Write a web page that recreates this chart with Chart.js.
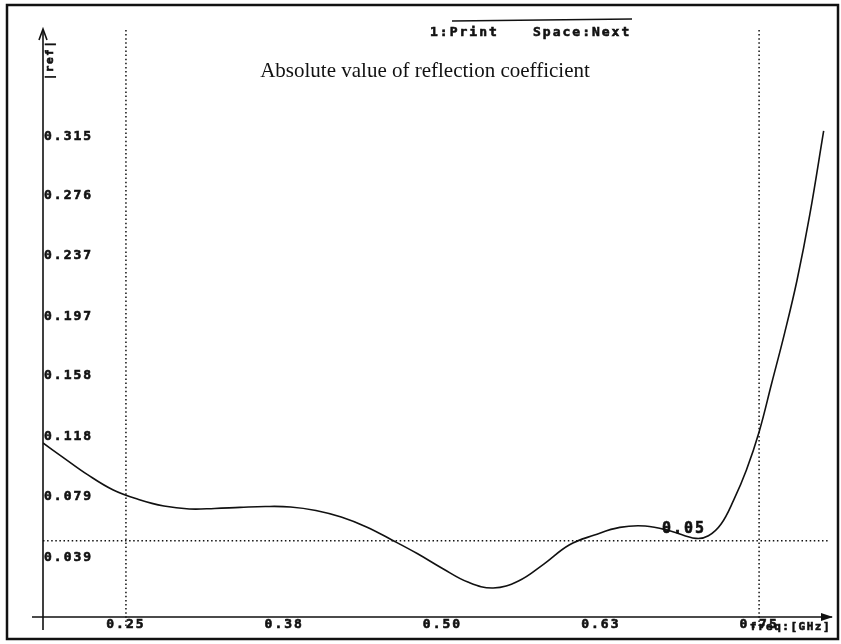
<!DOCTYPE html>
<html>
<head>
<meta charset="utf-8">
<script src="https://cdn.jsdelivr.net/npm/chart.js@4.4.1/dist/chart.umd.min.js"></script>
<style>
  html, body { margin: 0; padding: 0; background: #fff; }
</style>
</head>
<body>
<canvas id="c" width="841" height="644"></canvas>
<script>
// |ref| against frequency
const freqGHz = [0.1845, 0.20, 0.22, 0.24, 0.26, 0.28, 0.30, 0.32, 0.34, 0.36,
                 0.38, 0.40, 0.42, 0.44, 0.46, 0.48, 0.50, 0.52, 0.54, 0.56,
                 0.58, 0.60, 0.62, 0.64, 0.66, 0.68, 0.70, 0.71, 0.72, 0.73,
                 0.74, 0.75, 0.76, 0.77, 0.78, 0.79, 0.801];
const reflMag = [0.1140, 0.1048, 0.0931, 0.0832, 0.0770, 0.0727, 0.0708, 0.0711, 0.0718, 0.0724,
                 0.0721, 0.0698, 0.0655, 0.0590, 0.0505, 0.0416, 0.0318, 0.0229, 0.0190, 0.0236,
                 0.0347, 0.0472, 0.0537, 0.0587, 0.0596, 0.0564, 0.0515, 0.0532, 0.0609, 0.0767,
                 0.0963, 0.1212, 0.1533, 0.1855, 0.2208, 0.2634, 0.3185];

const xTickValues = [0.25, 0.375, 0.5, 0.625, 0.75];
const xTickLabels = ["0.25", "0.38", "0.50", "0.63", "0.75"];
const yTickValues = [0.039, 0.079, 0.118, 0.158, 0.197, 0.237, 0.276, 0.315];

// dotted markers: band edges and the 0.05 level
const bandEdges = [0.25, 0.75];
const markLevel = 0.05;

const INK = "#111";
const PIXEL_FONT = "'DejaVu Sans Mono', monospace";

const decor = {
  id: "decor",
  beforeDraw(chart) {
    const ctx = chart.ctx;
    ctx.save();
    ctx.fillStyle = "#fff";
    ctx.fillRect(0, 0, chart.width, chart.height);
    ctx.restore();
    // wide old-terminal lettering for the tick labels
    ctx.letterSpacing = "2px";
  },
  beforeDatasetsDraw(chart) {
    const { ctx, chartArea, scales: { x, y } } = chart;
    ctx.save();
    ctx.strokeStyle = INK;
    ctx.lineWidth = 1.5;
    ctx.setLineDash([1.5, 2.6]);
    bandEdges.forEach(f => {
      const px = x.getPixelForValue(f);
      ctx.beginPath();
      ctx.moveTo(px, chartArea.top - 7);
      ctx.lineTo(px, chartArea.bottom + 10);
      ctx.stroke();
    });
    const py = y.getPixelForValue(markLevel);
    ctx.beginPath();
    ctx.moveTo(chartArea.left, py);
    ctx.lineTo(chartArea.right, py);
    ctx.stroke();
    ctx.restore();
  },
  afterDraw(chart) {
    const { ctx, chartArea } = chart;
    const { left, right, top, bottom } = chartArea;
    ctx.save();
    ctx.strokeStyle = INK;
    ctx.fillStyle = INK;

    // outer frame
    ctx.lineWidth = 2.5;
    ctx.strokeRect(7, 5, 831, 634);

    // axes
    ctx.lineWidth = 1.6;
    ctx.beginPath();
    ctx.moveTo(left - 11, bottom);
    ctx.lineTo(right + 2, bottom);
    ctx.moveTo(left, top - 7);
    ctx.lineTo(left, bottom + 13);
    ctx.stroke();
    // arrow heads
    ctx.beginPath();
    ctx.moveTo(right + 3, bottom);
    ctx.lineTo(right - 9, bottom - 4);
    ctx.lineTo(right - 9, bottom + 4);
    ctx.closePath();
    ctx.fill();
    ctx.beginPath();
    ctx.moveTo(left - 4, top + 3);
    ctx.lineTo(left, top - 8);
    ctx.lineTo(left + 4, top + 3);
    ctx.stroke();

    // rule above the key hint
    ctx.lineWidth = 1.4;
    ctx.beginPath();
    ctx.moveTo(452, 21);
    ctx.lineTo(632, 19);
    ctx.stroke();

    // key hint
    ctx.letterSpacing = "2px";
    ctx.font = "bold 13px " + PIXEL_FONT;
    ctx.lineWidth = 0.6;
    ctx.textBaseline = "middle";
    ctx.textAlign = "left";
    ["1:Print", "Space:Next"].forEach((s, i) => {
      const tx = i === 0 ? 430 : 533;
      ctx.strokeText(s, tx, 33);
      ctx.fillText(s, tx, 33);
    });

    // title
    ctx.letterSpacing = "0px";
    ctx.font = "21px 'Liberation Serif', serif";
    ctx.textAlign = "center";
    ctx.fillText("Absolute value of reflection coefficient", 425, 71);

    // axis names
    ctx.letterSpacing = "1.5px";
    ctx.font = "bold 11px " + PIXEL_FONT;
    ctx.save();
    ctx.translate(50, 60);
    ctx.rotate(-Math.PI / 2);
    ctx.textAlign = "center";
    ctx.strokeText("|ref|", 0, 0);
    ctx.fillText("|ref|", 0, 0);
    ctx.restore();
    ctx.textAlign = "right";
    ctx.strokeText("freq:[GHz]", 831, bottom + 10);
    ctx.fillText("freq:[GHz]", 831, bottom + 10);

    // minimum marker label
    ctx.letterSpacing = "2px";
    ctx.font = "bold 15px " + PIXEL_FONT;
    ctx.textAlign = "center";
    ctx.strokeText("0.05", 684, 529);
    ctx.fillText("0.05", 684, 529);
    ctx.restore();
  }
};

const tickFont = { family: PIXEL_FONT, size: 13, weight: "bold" };

new Chart(document.getElementById("c"), {
  type: "line",
  data: {
    datasets: [
      {
        data: freqGHz.map((f, i) => ({ x: f, y: reflMag[i] })),
        borderColor: INK,
        borderWidth: 1.6,
        pointRadius: 0,
        tension: 0.4,
        fill: false,
      },
    ],
  },
  options: {
    responsive: false,
    animation: false,
    layout: { padding: { left: 43, right: 11, top: 37, bottom: 13 } },
    plugins: { legend: { display: false }, tooltip: { enabled: false } },
    scales: {
      x: {
        type: "linear",
        min: 0.1845,
        max: 0.806,
        grid: { display: false, drawTicks: false },
        border: { display: false },
        afterBuildTicks: scale => {
          scale.ticks = xTickValues.map(v => ({ value: v }));
        },
        afterFit: scale => {
          scale.height = 14;
        },
        ticks: {
          autoSkip: false,
          maxRotation: 0,
          padding: 0,
          color: INK,
          textStrokeColor: INK,
          textStrokeWidth: 0.6,
          font: tickFont,
          callback: (value, index) => xTickLabels[index],
        },
      },
      y: {
        min: 0,
        max: 0.38,
        grid: { display: false, drawTicks: false },
        border: { display: false },
        afterBuildTicks: scale => {
          scale.ticks = yTickValues.map(v => ({ value: v }));
        },
        afterFit: scale => {
          scale.width = 0;
        },
        ticks: {
          mirror: true,
          padding: 1,
          color: INK,
          textStrokeColor: INK,
          textStrokeWidth: 0.6,
          font: tickFont,
          callback: value => value.toFixed(3),
        },
      },
    },
  },
  plugins: [decor],
});
</script>
</body>
</html>
